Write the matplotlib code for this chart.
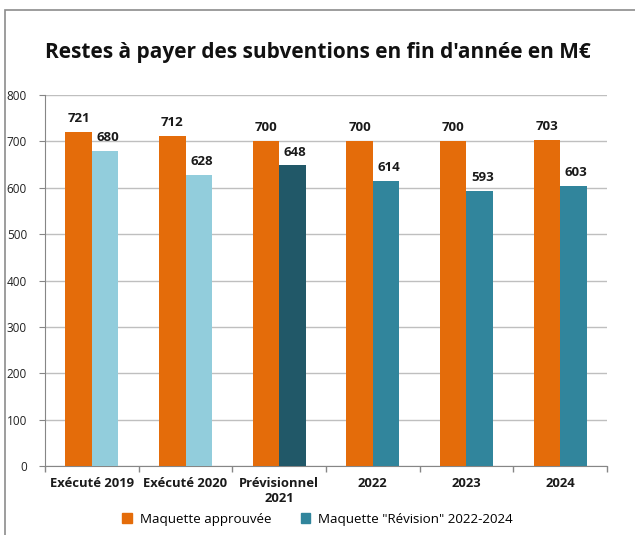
import matplotlib.pyplot as plt
import matplotlib.patches as mpatches
import numpy as np

# data
categories = ['Exécuté 2019', 'Exécuté 2020', 'Prévisionnel\n2021', '2022', '2023', '2024']
approuvee = [721, 712, 700, 700, 700, 703]
revision = [680, 628, 648, 614, 593, 603]

# colours (Office palette)
orange = '#E46C0A'
rev_colors = ['#92CDDC', '#92CDDC', '#215868', '#31859C', '#31859C', '#31859C']
legend_teal = '#31859C'
grid_color = '#BFBFBF'
axis_color = '#868686'

plt.rcParams['font.family'] = ['Open Sans', 'DejaVu Sans']

fig = plt.figure(figsize=(6.35, 5.35), dpi=100, facecolor='white')

# outer chart frame (runs off the right/bottom edge like the screenshot)
frame = mpatches.Rectangle((5 / 635, -0.1), 1.1, 1 - 10 / 535 + 0.1,
                           transform=fig.transFigure, fill=False,
                           edgecolor='#8C8C8C', linewidth=1.2)
fig.add_artist(frame)

ax = fig.add_axes([45 / 635, 1 - 466 / 535, (607 - 45) / 635, (466 - 95) / 535])

x = np.arange(len(categories))
w = 0.283
b1 = ax.bar(x - w / 2, approuvee, w, color=orange, zorder=3)
b2 = ax.bar(x + w / 2, revision, w, color=rev_colors, zorder=3)

for rect, v in zip(b1, approuvee):
    ax.annotate(str(v), (rect.get_x() + rect.get_width() / 2, v),
                xytext=(0, 5), textcoords='offset points',
                ha='center', va='bottom', fontsize=9.5, fontweight='bold', color='#1a1a1a')
for rect, v in zip(b2, revision):
    ax.annotate(str(v), (rect.get_x() + rect.get_width() / 2, v),
                xytext=(2, 5), textcoords='offset points',
                ha='center', va='bottom', fontsize=9.5, fontweight='bold', color='#1a1a1a')

ax.set_xlim(-0.5, len(categories) - 0.5)
ax.set_ylim(0, 800)
ax.set_yticks(range(0, 801, 100))
ax.grid(axis='y', color=grid_color, linewidth=1, zorder=0)

ax.set_xticks(x)
ax.set_xticklabels(categories, fontsize=9.4, fontweight='bold', color='#1a1a1a',
                   linespacing=1.15)
ax.tick_params(axis='x', length=0, pad=8)
# category boundary ticks
ax.set_xticks(np.arange(-0.5, len(categories), 1), minor=True)
ax.tick_params(axis='x', which='minor', length=4, color=axis_color, width=1)

ax.tick_params(axis='y', length=4, color=axis_color, labelsize=8.5,
               labelcolor='#222222', pad=9)

for side in ['top', 'right']:
    ax.spines[side].set_visible(False)
ax.spines['left'].set_color(axis_color)
ax.spines['bottom'].set_color(axis_color)

fig.text(0.5, 1 - 52 / 535, "Restes à payer des subventions en fin d'année en M€",
         ha='center', va='center', fontsize=15, fontweight='bold', color='#111111')

handles = [mpatches.Patch(color=orange, label='Maquette approuvée'),
           mpatches.Patch(color=legend_teal, label='Maquette "Révision" 2022-2024')]
fig.legend(handles=handles, loc='center', bbox_to_anchor=(0.5, 1 - 519 / 535),
           ncol=2, frameon=False, fontsize=9.6, handlelength=0.7, handleheight=0.7,
           handletextpad=0.6, columnspacing=2.2)

fig.savefig('out.png', dpi=100, facecolor='white')
